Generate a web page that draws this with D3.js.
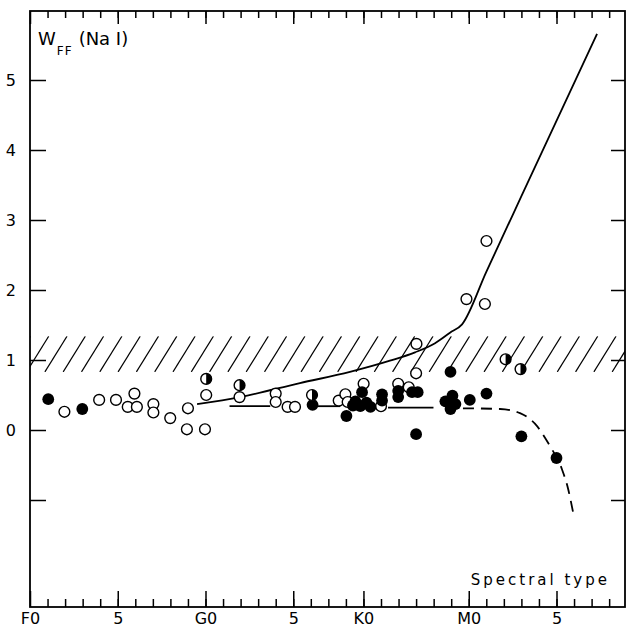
<!DOCTYPE html>
<html>
<head>
<meta charset="utf-8">
<script src="https://cdn.jsdelivr.net/npm/d3@7"></script>
<style>
html, body { margin: 0; padding: 0; background: #fff; }
svg { display: block; font-family: "DejaVu Sans", sans-serif; }
</style>
</head>
<body>
<svg width="626" height="631"></svg>
<script>
// spectral subclass index: F0 = 0, G0 = 10, K0 = 19, M0 = 25
var majorTicks = [0, 5, 10, 15, 19, 25, 30];
var majorLabels = ["F0", "5", "G0", "5", "K0", "M0", "5"];
var minorTicks = d3.range(1, 34);
var yTicks = [5, 4, 3, 2, 1, 0, -1];
var yLabels = ["5", "4", "3", "2", "1", "0", ""];

var openStars = [
  [1.96, 0.26], [3.94, 0.43], [4.9, 0.43], [5.57, 0.33], [5.95, 0.52], [6.09, 0.33],
  [7.03, 0.37], [7.03, 0.25], [7.99, 0.17], [9.0, 0.31], [8.94, 0.01], [9.97, 0.01],
  [10.04, 0.50], [11.94, 0.47], [14.0, 0.52], [14.0, 0.40], [14.68, 0.33], [15.1, 0.33],
  [17.59, 0.42], [17.97, 0.51], [18.1, 0.40], [19.01, 0.66], [20.0, 0.34], [20.98, 0.66],
  [21.58, 0.61], [22.0, 0.81], [22.02, 1.23], [24.87, 1.87], [25.92, 1.80], [26.01, 2.70]
];
var filledStars = [
  [1.04, 0.44], [2.98, 0.30], [16.1, 0.36], [18.03, 0.20], [18.4, 0.35], [18.54, 0.41],
  [18.82, 0.34], [18.92, 0.54], [19.17, 0.39], [19.4, 0.33], [20.06, 0.51], [20.06, 0.42],
  [20.98, 0.56], [20.98, 0.47], [21.77, 0.54], [22.09, 0.54], [22.0, -0.06], [23.96, 0.83],
  [23.67, 0.41], [24.07, 0.49], [24.24, 0.37], [23.96, 0.30], [25.06, 0.43], [26.01, 0.52],
  [28.0, -0.09], [30.0, -0.40]
];
var halfStars = [[10.04, 0.73], [11.94, 0.64], [16.07, 0.50], [27.1, 1.01], [27.95, 0.87]];

var upperCurve = [
  [9.52, 0.37], [11.97, 0.47], [15.38, 0.67], [18.23, 0.83], [20.51, 0.99], [21.94, 1.11],
  [23.08, 1.24], [23.93, 1.39], [24.62, 1.51], [26.0, 2.26], [28.0, 3.34], [32.31, 5.66]
];
var meanSegments = [
  [[11.37, 0.34], [13.69, 0.34]],
  [[16.35, 0.34], [17.68, 0.34]],
  [[20.4, 0.32], [22.99, 0.32]]
];
var dashedCurve = [
  [24.67, 0.31], [26.78, 0.30], [27.92, 0.24], [28.77, 0.09], [29.63, -0.23],
  [30.31, -0.56], [30.66, -0.84], [30.94, -1.17]
];
var band = [0.83, 1.34];

var svg = d3.select("svg");
var pLeft = 30, pRight = 625, pTop = 11, pBottom = 607;

var x = d3.scaleLinear().domain([0, 25]).range([pLeft, pLeft + 25 * 17.55]);
var y = d3.scaleLinear().domain([0, 5]).range([430, 80]);

// hatched band
svg.append("clipPath").attr("id", "bandclip")
  .append("rect")
  .attr("x", pLeft).attr("y", y(band[1]))
  .attr("width", pRight - pLeft).attr("height", y(band[0]) - y(band[1]));

var bh = y(band[0]) - y(band[1]);
var starts = d3.range(pLeft - 40, pRight + 20, 18.3);
svg.append("g").attr("clip-path", "url(#bandclip)")
  .selectAll("line").data(starts).enter().append("line")
  .attr("x1", function (d) { return d; })
  .attr("y1", y(band[0]))
  .attr("x2", function (d) { return d + bh * 0.62; })
  .attr("y2", y(band[1]))
  .attr("stroke", "#000").attr("stroke-width", 1.2);

// frame
svg.append("rect")
  .attr("x", pLeft).attr("y", pTop)
  .attr("width", pRight - pLeft).attr("height", pBottom - pTop)
  .attr("fill", "none").attr("stroke", "#000").attr("stroke-width", 1.8);

function styleAxis(g) {
  g.select(".domain").remove();
  g.selectAll("line").attr("stroke", "#000").attr("stroke-width", 1.5);
  g.selectAll("text").attr("font-family", "DejaVu Sans, sans-serif").attr("font-size", 16).attr("fill", "#000");
}

svg.append("g").attr("transform", "translate(0," + pBottom + ")")
  .call(d3.axisBottom(x).tickValues(minorTicks).tickSize(-8).tickFormat(""))
  .call(styleAxis);
svg.append("g").attr("transform", "translate(0," + pBottom + ")")
  .call(d3.axisBottom(x).tickValues(majorTicks).tickSize(-16).tickPadding(6)
    .tickFormat(function (d, i) { return majorLabels[i]; }))
  .call(styleAxis);
svg.append("g").attr("transform", "translate(0," + pTop + ")")
  .call(d3.axisTop(x).tickValues(minorTicks).tickSize(-7).tickFormat(""))
  .call(styleAxis);
svg.append("g").attr("transform", "translate(0," + pTop + ")")
  .call(d3.axisTop(x).tickValues(majorTicks).tickSize(-13).tickFormat(""))
  .call(styleAxis);
svg.append("g").attr("transform", "translate(" + pLeft + ",0)")
  .call(d3.axisLeft(y).tickValues(yTicks).tickSize(-16).tickPadding(14)
    .tickFormat(function (d, i) { return yLabels[i]; }))
  .call(styleAxis);
svg.append("g").attr("transform", "translate(" + pRight + ",0)")
  .call(d3.axisLeft(y).tickValues(yTicks).tickSize(14).tickFormat(""))
  .call(styleAxis);

// curves
var line = d3.line().x(function (d) { return x(d[0]); }).y(function (d) { return y(d[1]); });

svg.append("path").datum(upperCurve)
  .attr("d", line.curve(d3.curveMonotoneX))
  .attr("fill", "none").attr("stroke", "#000").attr("stroke-width", 1.8);

svg.append("g").selectAll("path").data(meanSegments).enter().append("path")
  .attr("d", d3.line().x(function (d) { return x(d[0]); }).y(function (d) { return y(d[1]); }))
  .attr("fill", "none").attr("stroke", "#000").attr("stroke-width", 1.8);

svg.append("path").datum(dashedCurve)
  .attr("d", d3.line().x(function (d) { return x(d[0]); }).y(function (d) { return y(d[1]); }).curve(d3.curveMonotoneX))
  .attr("fill", "none").attr("stroke", "#000").attr("stroke-width", 1.8)
  .attr("stroke-dasharray", "11,7");

// stars
var r = 5.4;
svg.append("g").selectAll("circle").data(openStars).enter().append("circle")
  .attr("cx", function (d) { return x(d[0]); })
  .attr("cy", function (d) { return y(d[1]); })
  .attr("r", r).attr("fill", "#fff").attr("stroke", "#000").attr("stroke-width", 1.4);

svg.append("g").selectAll("circle").data(filledStars).enter().append("circle")
  .attr("cx", function (d) { return x(d[0]); })
  .attr("cy", function (d) { return y(d[1]); })
  .attr("r", r + 0.5).attr("fill", "#000");

var half = svg.append("g").selectAll("g").data(halfStars).enter().append("g")
  .attr("transform", function (d) { return "translate(" + x(d[0]) + "," + y(d[1]) + ")"; });
half.append("circle").attr("r", r).attr("fill", "#fff").attr("stroke", "#000").attr("stroke-width", 1.4);
half.append("path")
  .attr("d", "M0," + (-r) + "A" + r + "," + r + " 0 0 1 0," + r + "Z")
  .attr("fill", "#000");

// labels
var yl = svg.append("text").attr("x", 38).attr("y", 45).attr("font-size", 18).attr("fill", "#000");
yl.append("tspan").text("W");
yl.append("tspan").attr("font-size", 12).attr("dy", 10).attr("dx", 1).attr("letter-spacing", 1).text("FF");
yl.append("tspan").attr("dy", -10).attr("dx", 6).text("(Na I)");

svg.append("text").attr("x", 610).attr("y", 585)
  .attr("text-anchor", "end").attr("font-size", 15).attr("fill", "#000")
  .attr("letter-spacing", 3).text("Spectral type");
</script>
</body>
</html>
